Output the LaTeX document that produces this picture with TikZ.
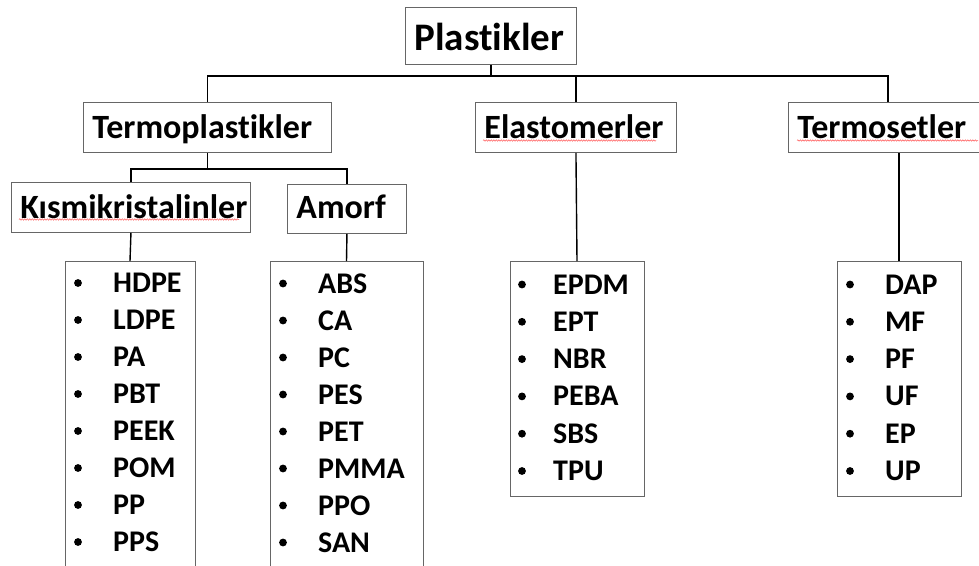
\documentclass[tikz,border=0pt]{standalone}
\usepackage{fontspec}
\setmainfont[Ligatures=NoCommon]{Carlito}
\usetikzlibrary{decorations.pathmorphing}
\begin{document}
\begin{tikzpicture}[x=1pt,y=-1pt,
  hbox/.style={draw=black!60, line width=0.9pt, anchor=north west, align=left,
    inner xsep=9pt, inner ysep=0pt, text depth=0pt,
    font=\bfseries\fontsize{34}{34}\selectfont},
  lbox/.style={draw=black!60, line width=0.9pt, anchor=north, inner sep=0pt},
  item/.style={anchor=base west, inner sep=0pt, font=\bfseries\fontsize{30}{30}\selectfont},
  conn/.style={draw=black, line width=1.4pt},
  spell/.style={draw=red!65, line width=0.5pt, decorate,
    decoration={snake, amplitude=0.7pt, segment length=2.5pt}}]
\clip (0,0) rectangle (979,565);
\useasboundingbox (0,0) rectangle (979,565);

% header boxes
\node[hbox, minimum width=171, minimum height=57, text width=153, text height=29pt,
  font=\bfseries\fontsize{39}{39}\selectfont] (plast) at (405,7) {Plastikler};
\node[hbox, minimum width=248, minimum height=50, text width=230, text height=22pt] (termop) at (83,102) {Termoplastikler};
\node[hbox, minimum width=201, minimum height=50, text width=183, text height=22pt, inner xsep=8pt] (elast) at (475,102) {Elastomerler};
\node[hbox, minimum width=199, minimum height=50, text width=181, text height=22pt] (termos) at (788,102) {Termosetler};
\node[hbox, minimum width=239, minimum height=50, text width=221, text height=22pt, inner xsep=8pt] (kism) at (11,182) {Kısmikristalinler};
\node[hbox, minimum width=119, minimum height=49, text width=101, text height=19pt] (amorf) at (287,184) {Amorf};

% spell-check underlines
\draw[spell] (19,219.5) -- (239,219.5);
\draw[spell] (483,140.5) -- (656,140.5);
\draw[spell] (797,140.5) -- (978,140.5);

% list boxes
\node[lbox, minimum width=130, minimum height=330] (klist) at (130,261) {};
\node[lbox, minimum width=153, minimum height=330] (alist) at (346.5,261) {};
\node[lbox, minimum width=134, minimum height=235] (elist) at (577,261) {};
\node[lbox, minimum width=124, minimum height=235] (tlist) at (899,261) {};

% items
\foreach \t [count=\i] in {HDPE,LDPE,PA,PBT,PEEK,POM,PP,PPS} {
  \node[item] (k\i) at (113,{292.5+37*(\i-1)}) {\t};
  \fill (78,{283+37*(\i-1)}) circle (3.9);
}
\foreach \t [count=\i] in {ABS,CA,PC,PES,PET,PMMA,PPO,SAN} {
  \node[item] (a\i) at (318,{293+37*(\i-1)}) {\t};
  \fill (283,{283.5+37*(\i-1)}) circle (3.9);
}
\foreach \t [count=\i] in {EPDM,EPT,NBR,PEBA,SBS,TPU} {
  \node[item] (e\i) at (553,{294+37.3*(\i-1)}) {\t};
  \fill (522,{284.5+37.3*(\i-1)}) circle (3.9);
}
\foreach \t [count=\i] in {DAP,MF,PF,UF,EP,UP} {
  \node[item] (t\i) at (885,{294+37.3*(\i-1)}) {\t};
  \fill (850,{284.5+37.3*(\i-1)}) circle (3.9);
}

% connectors
\draw[conn] (plast.south) -- ++(0,12);
\draw[conn] (termop.north) -- ++(0,-26) -| (termos.north);
\draw[conn] (elast.north) -- ++(0,-26);
\draw[conn] (termop.south) -- ++(0,16) coordinate (tb);
\draw[conn] (kism.north) |- (tb) -| (amorf.north);
\draw[conn] (kism.south) -- (klist.north);
\draw[conn] (amorf.south) -- (alist.north);
\draw[conn] (elast.south) -- (elist.north);
\draw[conn] (tlist.north) -- (tlist.north |- termos.south);
\end{tikzpicture}
\end{document}
